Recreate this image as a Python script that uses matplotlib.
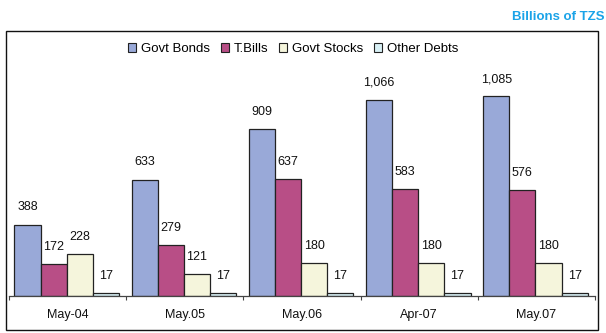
import matplotlib
matplotlib.use("Agg")
import matplotlib.pyplot as plt
from matplotlib.patches import Rectangle
import numpy as np

plt.rcParams['font.family'] = ['Liberation Sans', 'DejaVu Sans']

categories = ["May-04", "May.05", "May.06", "Apr-07", "May.07"]
series_names = ["Govt Bonds", "T.Bills", "Govt Stocks", "Other Debts"]
govt_bonds = [388, 633, 909, 1066, 1085]
t_bills = [172, 279, 637, 583, 576]
govt_stocks = [228, 121, 180, 180, 180]
other_debts = [17, 17, 17, 17, 17]

series = [govt_bonds, t_bills, govt_stocks, other_debts]
colors = ["#99A9D8", "#B84E86", "#F5F5DC", "#D8F0F5"]

W, H = 606, 333
fig = plt.figure(figsize=(W / 100, H / 100), dpi=100)

# outer frame around the chart area
fig.patches.append(Rectangle((5.5 / W, 1 - 329.5 / H), 592 / W, 298.5 / H,
                             transform=fig.transFigure, fill=False,
                             edgecolor="#111111", linewidth=1.0))

ax_left, ax_right = 9 / W, 595 / W
ax_bottom, ax_top = 1 - 296 / H, 1 - 31 / H
ax = fig.add_axes([ax_left, ax_bottom, ax_right - ax_left, ax_top - ax_bottom])
ax.set_xlim(0, len(categories))
ax.set_ylim(0, 1440)

bar_w = 0.223
x = np.arange(len(categories))
start = 0.5 - 2 * bar_w - 0.008
for i, (vals, col, name) in enumerate(zip(series, colors, series_names)):
    xs = x + start + i * bar_w + bar_w / 2
    ax.bar(xs, vals, width=bar_w, color=col, edgecolor="#222222",
           linewidth=0.9, label=name, zorder=2)
    for xi, v in zip(xs, vals):
        ax.annotate(f"{v:,}", (xi, v), xytext=(0, 8), textcoords="offset points",
                    ha="center", va="bottom", fontsize=9, color="#111111")

for s in ["left", "top", "right"]:
    ax.spines[s].set_visible(False)
ax.spines["bottom"].set_color("#444444")
ax.spines["bottom"].set_linewidth(0.9)
ax.set_yticks([])
ax.set_xticks(np.arange(len(categories) + 1))
ax.set_xticklabels([])
ax.tick_params(axis="x", length=3, width=0.8, color="#444444", direction="out")
for xi, c in zip(x + 0.5, categories):
    ax.text(xi, -0.07, c, transform=ax.get_xaxis_transform(), ha="center",
            va="center", fontsize=9, color="#111111")

leg = ax.legend(loc="center", bbox_to_anchor=(0.485, 1 - 18 / 265), ncol=4,
                frameon=False, fontsize=9.5, handlelength=0.6, handleheight=0.6,
                handletextpad=0.4, columnspacing=0.8)
for h in leg.legend_handles:
    h.set_linewidth(0.8)

fig.text(604 / W, 1 - 17 / H, "Billions of TZS", ha="right", va="center",
         fontsize=9.5, fontweight="bold", color="#1AA3E8")

fig.savefig("out.png", dpi=100)
